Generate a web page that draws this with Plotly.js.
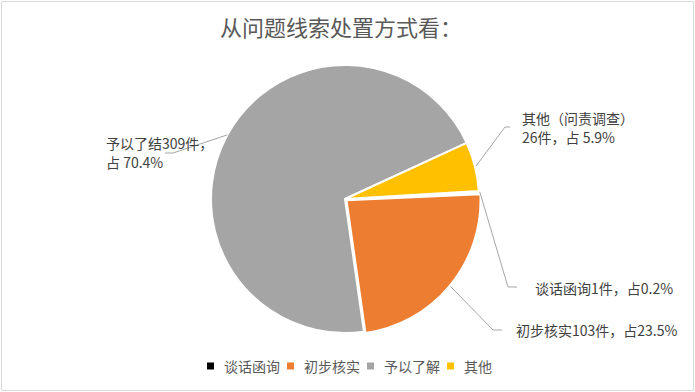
<!DOCTYPE html>
<html>
<head>
<meta charset="utf-8">
<script src="https://cdn.plot.ly/plotly-3.0.1.min.js"></script>
<style>html,body{margin:0;padding:0;background:#fff;}#chart{width:695px;height:392px;}</style>
</head>
<body>
<div id="chart"></div>
<script>
// ---- data ----
var categories = ['谈话函询', '初步核实', '予以了解', '其他'];
var values = [1, 103, 309, 26];
var colors = ['#000000', '#ED7D31', '#A5A5A5', '#FFC000'];
var calloutLines = [
  ['谈话函询1件，占0.2%'],
  ['初步核实103件，占23.5%'],
  ['予以了结309件，', '占 70.4%'],
  ['其他（问责调查）', '26件，占 5.9%']
];
var titleText = '从问题线索处置方式看：';

// ---- layout geometry (pixels) ----
var W = 695, H = 392;
var cx = 345, cy = 199, R = 134, pullOrange = 0.015;
var S = 2 * R * (1 + pullOrange);
var mL = cx - S / 2, mT = cy - S / 2;
var mR = W - mL - S, mB = H - mT - S;
function px(x) { return (x - mL) / S; }
function py(y) { return 1 - (y - mT) / S; }

var rotation = 86.6;
var total = values.reduce(function (a, b) { return a + b; }, 0);
var midAngles = [];
var acc = rotation;
values.forEach(function (v) {
  var span = v / total * 360;
  midAngles.push(acc + span / 2);
  acc += span;
});

// callout placement: [elbowX, elbowY, endX, endY, textX, firstLineY]
var callout = [
  [508, 287, 517, 287, 533, 288],
  [493, 330, 502, 330, 514, 330],
  [173, 153, 165, 153, 104, 143],
  [505, 127, 510, 127, 520, 118]
];
var lineGap = 19;
var edgeR = [R + 1, R + 3, R, R + 1];

var shapes = [], annotations = [];
// chart-area border
shapes.push({
  type: 'rect', xref: 'paper', yref: 'paper',
  x0: px(1.5), x1: px(693.5), y0: py(1.5), y1: py(390.5),
  line: { color: '#D9D9D9', width: 1 }, fillcolor: 'rgba(0,0,0,0)'
});

values.forEach(function (v, i) {
  var a = midAngles[i] * Math.PI / 180;
  var sx = cx + edgeR[i] * Math.sin(a), sy = cy - edgeR[i] * Math.cos(a);
  var c = callout[i];
  shapes.push({
    type: 'path', xref: 'paper', yref: 'paper',
    path: 'M' + px(sx) + ',' + py(sy) + ' L' + px(c[0]) + ',' + py(c[1]) + ' L' + px(c[2]) + ',' + py(c[3]),
    line: { color: '#A6A6A6', width: 1 }
  });
  calloutLines[i].forEach(function (t, j) {
    annotations.push({
      xref: 'paper', yref: 'paper', x: px(c[4]), y: py(c[5] + j * lineGap),
      xanchor: 'left', yanchor: 'middle', align: 'left', showarrow: false,
      text: t,
      font: { family: 'Noto Sans CJK SC, sans-serif', size: 14, color: '#404040' }
    });
  });
});

// manual legend
var legX = 207, legY = 366, sq = 7, fs = 14;
categories.forEach(function (name, i) {
  shapes.push({
    type: 'rect', xref: 'paper', yref: 'paper',
    x0: px(legX), x1: px(legX + sq), y0: py(legY + sq / 2), y1: py(legY - sq / 2),
    fillcolor: colors[i], line: { width: 0 }
  });
  annotations.push({
    xref: 'paper', yref: 'paper', x: px(legX + sq + 8), y: py(legY),
    xanchor: 'left', yanchor: 'middle', showarrow: false, text: name,
    font: { family: 'Noto Sans CJK SC, sans-serif', size: fs, color: '#595959' }
  });
  legX += sq + 8 + fs * name.length + 9;
});

var trace = {
  type: 'pie',
  labels: categories,
  values: values,
  sort: false,
  direction: 'clockwise',
  rotation: rotation,
  pull: [0, pullOrange, 0, 0],
  marker: { colors: colors, line: { color: '#FFFFFF', width: 2 } },
  textinfo: 'none',
  hoverinfo: 'label+value+percent',
  showlegend: false
};

var layout = {
  width: W, height: H,
  margin: { l: mL, r: mR, t: mT, b: mB, pad: 0 },
  paper_bgcolor: '#FFFFFF', plot_bgcolor: '#FFFFFF',
  showlegend: false,
  title: {
    text: titleText,
    x: 341 / W, xanchor: 'center', xref: 'container',
    y: 1 - 28 / H, yanchor: 'middle', yref: 'container',
    font: { family: 'Noto Sans CJK SC, sans-serif', size: 22, color: '#595959' }
  },
  shapes: shapes,
  annotations: annotations
};

Plotly.newPlot('chart', [trace], layout, { displayModeBar: false, staticPlot: true });
</script>
</body>
</html>
